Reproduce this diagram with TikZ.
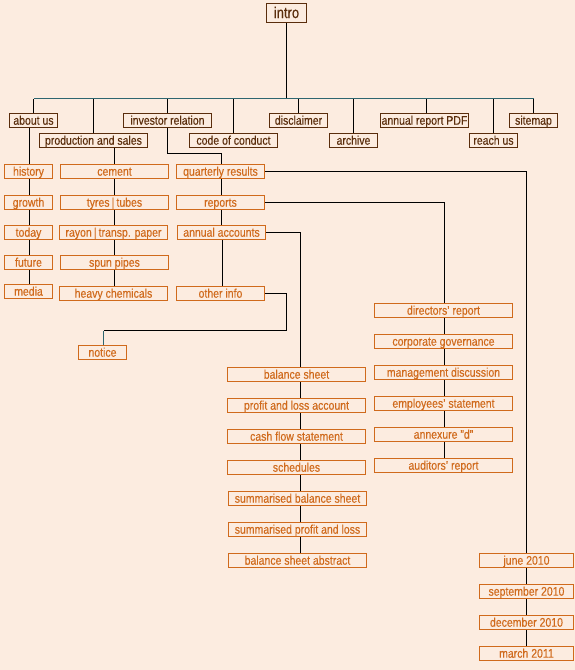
\documentclass[tikz,border=0pt]{standalone}
\usepackage{fontspec}
\setmainfont[FakeStretch=0.84,FakeBold=0.3]{Liberation Sans}
\definecolor{bg}{HTML}{FCECE0}
\definecolor{brown}{HTML}{5A2D0C}
\definecolor{orng}{HTML}{D06A1C}
\definecolor{teal2}{HTML}{2E6670}
\begin{document}
\begin{tikzpicture}[x=1pt,y=-1pt,
  topbox/.style={draw=brown,line width=1pt,text=brown,inner sep=0pt,minimum height=14pt,text height=10.4pt,text depth=2pt,font=\fontsize{12.5}{12.5}\selectfont},
  subbox/.style={draw=orng,line width=1pt,text=orng,inner sep=0pt,minimum height=14pt,text height=10.4pt,text depth=2pt,font=\fontsize{12.5}{12.5}\selectfont},
  link/.style={draw=black,line width=1pt},
  buslink/.style={draw=teal2,line width=1pt}]
\fill[bg] (0,0) rectangle (575,670);
\useasboundingbox (0,0) rectangle (575,670);
% top
\node[topbox,minimum width=40pt,minimum height=19pt,text height=12.5pt,text depth=2.5pt,font=\fontsize{15.5}{15.5}\selectfont] (intro) at (286.5,13) {intro};
\coordinate (busL) at (33.5,98.5);
\coordinate (busR) at (533.5,98.5);
% first level
\node[topbox,minimum width=48pt] (about) at (33.5,120.5) {about us};
\node[topbox,minimum width=108pt] (prod) at (93.5,140.5) {production and sales};
\node[topbox,minimum width=88pt] (ir) at (167.5,120.5) {investor relation};
\node[topbox,minimum width=88pt] (coc) at (233.5,140.5) {code of conduct};
\node[topbox,minimum width=58pt] (disc) at (298.5,120.5) {disclaimer};
\node[topbox,minimum width=48pt] (arch) at (353.5,140.5) {archive};
\node[topbox,minimum width=88pt] (pdf) at (424.5,120.5) {annual report PDF};
\node[topbox,minimum width=48pt] (reach) at (493.5,140.5) {reach us};
\node[topbox,minimum width=48pt] (site) at (533.5,120.5) {sitemap};
% bus
\draw[link] (intro.south) -- (intro.south |- busL);
\foreach \n in {about,prod,ir,coc,disc,arch,reach,site}
  \draw[link] (\n.north) -- (\n.north |- busL);
\draw[link] ([xshift=2pt]pdf.north) -- ([xshift=2pt]pdf.north |- busL);
\draw[buslink] (busL) -- (busR);
% about column
\node[subbox,minimum width=48pt] (hist) at (28.5,171.5) {history};
\node[subbox,minimum width=48pt] (grow) at (28.5,202.5) {growth};
\node[subbox,minimum width=48pt] (today) at (28.5,232.5) {today};
\node[subbox,minimum width=48pt] (fut) at (28.5,262.5) {future};
\node[subbox,minimum width=48pt] (media) at (28.5,291.5) {media};
\draw[link] (about.south -| 29.5,0) -- (hist.north -| 29.5,0);
\foreach \a/\b in {hist/grow,grow/today,today/fut,fut/media}
  \draw[link] (\a.south -| 29.5,0) -- (\b.north -| 29.5,0);
% production column
\node[subbox,minimum width=108pt] (cem) at (114.5,171.5) {cement};
\node[subbox,minimum width=108pt] (tyre) at (114.5,202.5) {tyres\,|\,tubes};
\node[subbox,minimum width=108pt] (rayon) at (113.5,232.5) {rayon\,|\,transp. paper};
\node[subbox,minimum width=108pt] (spun) at (114.5,262.5) {spun pipes};
\node[subbox,minimum width=108pt] (heavy) at (113.5,293.5) {heavy chemicals};
\draw[link] (prod.south -| cem.north) -- (cem.north);
\foreach \a/\b in {cem/tyre,tyre/rayon,rayon/spun,spun/heavy}
  \draw[link] (\a.south -| 114.5,0) -- (\b.north -| 114.5,0);
% investor column
\node[subbox,minimum width=88pt] (qr) at (220.5,171.5) {quarterly results};
\node[subbox,minimum width=88pt] (rep) at (220.5,202.5) {reports};
\node[subbox,minimum width=88pt] (aa) at (221.5,232.5) {annual accounts};
\node[subbox,minimum width=88pt] (oi) at (220.5,293.5) {other info};
\node[subbox,minimum width=48pt] (notice) at (102.5,352.5) {notice};
\coordinate (irk) at (221.5,153.5);
\draw[link] (ir.south) |- (irk) -- (qr.north -| irk);
\draw[link] (qr.south -| 221.5,0) -- (rep.north -| 221.5,0);
\draw[link] (rep.south -| 221.5,0) -- (aa.north -| 221.5,0);
\draw[link] (aa.south -| 222.5,0) -- (oi.north -| 222.5,0);
\coordinate (oik) at (286.5,330.5);
\coordinate (nk) at (103.5,330.5);
\draw[link] (oi.east) -| (oik) -- (nk);
\draw[buslink] (nk) -- (notice.north -| nk);
% balance sheet column
\node[subbox,minimum width=138pt] (bs) at (296.5,374.5) {balance sheet};
\node[subbox,minimum width=138pt] (pl) at (296.5,405.5) {profit and loss account};
\node[subbox,minimum width=138pt] (cf) at (296.5,436.5) {cash flow statement};
\node[subbox,minimum width=138pt] (sch) at (296.5,467.5) {schedules};
\node[subbox,minimum width=138pt] (sbs) at (297.5,498.5) {summarised balance sheet};
\node[subbox,minimum width=138pt] (spl) at (297.5,529.5) {summarised profit and loss};
\node[subbox,minimum width=138pt] (bsa) at (297.5,560.5) {balance sheet abstract};
\draw[link] (aa.east) -| (bs.north -| 300.5,0);
\foreach \a/\b in {bs/pl,pl/cf,cf/sch,sch/sbs,sbs/spl,spl/bsa}
  \draw[link] (\a.south -| 300.5,0) -- (\b.north -| 300.5,0);
% reports column
\node[subbox,minimum width=138pt] (dir) at (443.5,310.5) {directors' report};
\node[subbox,minimum width=138pt] (cg) at (443.5,341.5) {corporate governance};
\node[subbox,minimum width=138pt] (md) at (443.5,372.5) {management discussion};
\node[subbox,minimum width=138pt] (emp) at (443.5,403.5) {employees' statement};
\node[subbox,minimum width=138pt] (ann) at (443.5,434.5) {annexure "d"};
\node[subbox,minimum width=138pt] (aud) at (443.5,465.5) {auditors' report};
\draw[link] (rep.east) -| (dir.north -| 444.5,0);
\foreach \a/\b in {dir/cg,cg/md,md/emp,emp/ann,ann/aud}
  \draw[link] (\a.south -| 444.5,0) -- (\b.north -| 444.5,0);
% quarterly column
\node[subbox,minimum width=94pt] (jun) at (526.5,560.5) {june 2010};
\node[subbox,minimum width=94pt] (sep) at (526.5,591.5) {september 2010};
\node[subbox,minimum width=94pt] (dec) at (526.5,622.5) {december 2010};
\node[subbox,minimum width=94pt] (mar) at (526.5,653.5) {march 2011};
\draw[link] (qr.east) -| (jun.north);
\foreach \a/\b in {jun/sep,sep/dec,dec/mar}
  \draw[link] (\a) -- (\b);
\end{tikzpicture}
\end{document}
